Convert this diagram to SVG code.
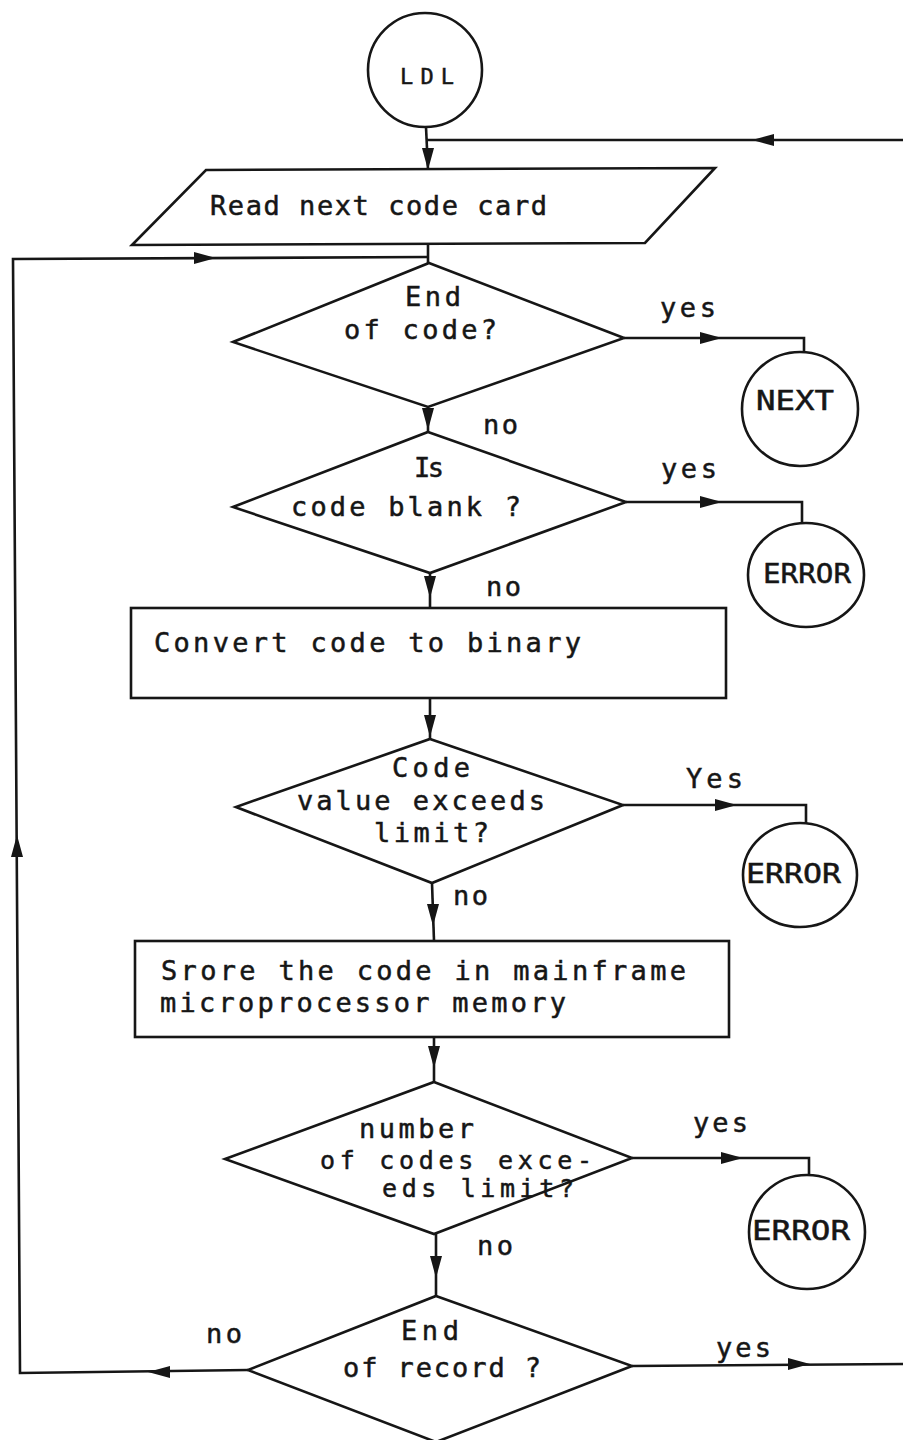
<svg xmlns="http://www.w3.org/2000/svg" xmlns:xlink="http://www.w3.org/1999/xlink" width="903" height="1440" viewBox="0 0 903 1440">
  <style>
    .shape { fill: none; stroke: #161616; stroke-width: 2.6; stroke-linejoin: miter; }
    .line { fill: none; stroke: #161616; stroke-width: 2.6; }
    .head { fill: #161616; stroke: none; }
    text { font-family: "DejaVu Sans Mono", "Liberation Mono", monospace; font-size: 27px; fill: #161616; stroke: #161616; stroke-width: 0.5; }
    .tight { font-size: 25px; }
  </style>
  <defs>
    <!-- arrowhead with its tip at the origin, pointing along +x -->
    <path id="ah" d="M0,0 L-22,-6 L-22,6 Z"/>
  </defs>
  <rect x="0" y="0" width="903" height="1440" fill="#ffffff"/>

  <!-- connectors -->
  <g id="connectors">
    <!-- entry and return to the card reader -->
    <path class="line" d="M426 127 L428 170"/>
    <path class="line" d="M903 140 L427 140"/>
    <path class="line" d="M428 243 L428 263"/>
    <!-- loop back from end-of-record "no" -->
    <path class="line" d="M248 1370 L20 1373 L13 259 L428 257"/>
    <!-- main spine -->
    <path class="line" d="M428 407 L428 432"/>
    <path class="line" d="M430 573 L430 608"/>
    <path class="line" d="M430 698 L430 739"/>
    <path class="line" d="M432 883 L434 941"/>
    <path class="line" d="M434 1037 L434 1082"/>
    <path class="line" d="M436 1234 L436 1296"/>
    <!-- yes branches -->
    <path class="line" d="M624 338 L804 338 L804 352"/>
    <path class="line" d="M626 502 L802 502 L802 523"/>
    <path class="line" d="M623 805 L806 805 L806 823"/>
    <path class="line" d="M632 1158 L809 1158 L809 1175"/>
    <path class="line" d="M632 1366 L903 1364"/>

    <!-- arrowheads -->
    <use xlink:href="#ah" class="head" transform="translate(428,170) rotate(90)"/>
    <use xlink:href="#ah" class="head" transform="translate(752,140) rotate(180)"/>
    <use xlink:href="#ah" class="head" transform="translate(216,258)"/>
    <use xlink:href="#ah" class="head" transform="translate(722,338)"/>
    <use xlink:href="#ah" class="head" transform="translate(428,430) rotate(90)"/>
    <use xlink:href="#ah" class="head" transform="translate(722,502)"/>
    <use xlink:href="#ah" class="head" transform="translate(430,598) rotate(90)"/>
    <use xlink:href="#ah" class="head" transform="translate(430,737) rotate(90)"/>
    <use xlink:href="#ah" class="head" transform="translate(737,805)"/>
    <use xlink:href="#ah" class="head" transform="translate(433,926) rotate(90)"/>
    <use xlink:href="#ah" class="head" transform="translate(434,1068) rotate(90)"/>
    <use xlink:href="#ah" class="head" transform="translate(743,1158)"/>
    <use xlink:href="#ah" class="head" transform="translate(436,1278) rotate(90)"/>
    <use xlink:href="#ah" class="head" transform="translate(148,1372) rotate(180)"/>
    <use xlink:href="#ah" class="head" transform="translate(17,835) rotate(-90)"/>
    <use xlink:href="#ah" class="head" transform="translate(810,1364)"/>

    <!-- branch labels -->
    <text x="660" y="317" textLength="56" lengthAdjust="spacing">yes</text>
    <text x="483" y="434" textLength="35" lengthAdjust="spacing">no</text>
    <text x="661" y="478" textLength="56" lengthAdjust="spacing">yes</text>
    <text x="486" y="596" textLength="35" lengthAdjust="spacing">no</text>
    <text x="686" y="788" textLength="57" lengthAdjust="spacing">Yes</text>
    <text x="453" y="905" textLength="35" lengthAdjust="spacing">no</text>
    <text x="693" y="1132" textLength="55" lengthAdjust="spacing">yes</text>
    <text x="477" y="1255" textLength="36" lengthAdjust="spacing">no</text>
    <text x="206" y="1343" textLength="36" lengthAdjust="spacing">no</text>
    <text x="716" y="1357" textLength="55" lengthAdjust="spacing">yes</text>
  </g>

  <!-- nodes -->
  <g id="ldl">
    <ellipse class="shape" cx="425" cy="70" rx="57" ry="57"/>
    <text x="400" y="84" style="font-size:22px" textLength="54" lengthAdjust="spacing">LDL</text>
  </g>

  <g id="read-card">
    <polygon class="shape" points="206,170 715,168 645,243 132,245"/>
    <text x="210" y="215" textLength="337" lengthAdjust="spacing">Read next code card</text>
  </g>

  <g id="end-of-code">
    <polygon class="shape" points="429,263 624,338 428,407 233,342"/>
    <text x="405" y="306" textLength="56" lengthAdjust="spacing">End</text>
    <text x="344" y="339" textLength="153" lengthAdjust="spacing">of code?</text>
  </g>

  <g id="next">
    <ellipse class="shape" cx="800" cy="409" rx="58" ry="57"/>
    <text x="756" y="410" textLength="78" lengthAdjust="spacingAndGlyphs">NEXT</text>
  </g>

  <g id="code-blank">
    <polygon class="shape" points="428,432 626,502 430,573 233,507"/>
    <text x="414" y="477" textLength="30" lengthAdjust="spacing">Is</text>
    <text x="291" y="516" textLength="230" lengthAdjust="spacing">code blank ?</text>
  </g>

  <g id="error-1">
    <ellipse class="shape" cx="806" cy="575" rx="58" ry="52"/>
    <text x="763" y="583" textLength="88" lengthAdjust="spacingAndGlyphs">ERROR</text>
  </g>

  <g id="convert">
    <rect class="shape" x="131" y="608" width="595" height="90"/>
    <text x="154" y="652" textLength="427" lengthAdjust="spacing">Convert code to binary</text>
  </g>

  <g id="value-limit">
    <polygon class="shape" points="430,739 623,805 432,883 236,807"/>
    <text x="392" y="777" textLength="78" lengthAdjust="spacing">Code</text>
    <text x="297" y="810" textLength="248" lengthAdjust="spacing">value exceeds</text>
    <text x="374" y="842" textLength="115" lengthAdjust="spacing">limit?</text>
  </g>

  <g id="error-2">
    <ellipse class="shape" cx="800" cy="875" rx="57" ry="52"/>
    <text x="746" y="883" textLength="95" lengthAdjust="spacingAndGlyphs">ERROR</text>
  </g>

  <g id="store">
    <rect class="shape" x="135" y="941" width="594" height="96"/>
    <text x="161" y="980" textLength="525" lengthAdjust="spacing">Srore the code in mainframe</text>
    <text x="160" y="1012" textLength="406" lengthAdjust="spacing">microprocessor memory</text>
  </g>

  <g id="count-limit">
    <polygon class="shape" points="434,1082 632,1158 434,1234 225,1159"/>
    <text x="359" y="1138" textLength="115" lengthAdjust="spacing">number</text>
    <text class="tight" x="320" y="1169" textLength="272" lengthAdjust="spacing">of codes exce-</text>
    <text class="tight" x="382" y="1197" textLength="192" lengthAdjust="spacing">eds limit?</text>
  </g>

  <g id="error-3">
    <ellipse class="shape" cx="807" cy="1232" rx="58" ry="57"/>
    <text x="752" y="1240" textLength="98" lengthAdjust="spacingAndGlyphs">ERROR</text>
  </g>

  <g id="end-of-record">
    <polygon class="shape" points="436,1296 632,1366 436,1442 248,1370"/>
    <text x="401" y="1340" textLength="58" lengthAdjust="spacing">End</text>
    <text x="343" y="1377" textLength="198" lengthAdjust="spacing">of record ?</text>
  </g>
</svg>
